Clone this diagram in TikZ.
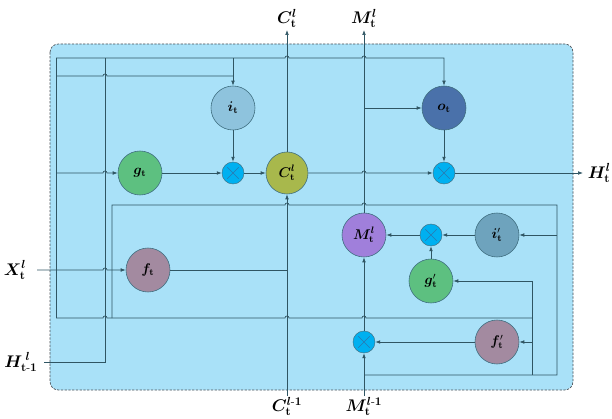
\documentclass[tikz,border=0pt]{standalone}
\usepackage{amsmath}
\usepackage{bm}
\usepackage{xcolor}
\usepackage{tikz}
\usetikzlibrary{positioning, arrows.meta}
\definecolor{cellBg}{HTML}{A9E1F8}
\definecolor{cellEdge}{HTML}{4A4F55}
\definecolor{wireC}{HTML}{2F5563}
\definecolor{gateEdge}{HTML}{3F6E80}
\definecolor{itCol}{HTML}{8EC3DD}
\definecolor{gtCol}{HTML}{5DC080}
\definecolor{mulCol}{HTML}{00B0F0}
\definecolor{crossCol}{HTML}{2A78B0}
\definecolor{ctCol}{HTML}{A8B84C}
\definecolor{otCol}{HTML}{4A71AA}
\definecolor{mtCol}{HTML}{A07FDB}
\definecolor{ipCol}{HTML}{6EA3BD}
\definecolor{ftCol}{HTML}{A38AA0}
% a small hop where a wire crosses another one
\newcommand{\hop}[2]{-- (#1-2,#2) arc[start angle=180,end angle=0,radius=0.6mm]}

\begin{document}
\begin{tikzpicture}[x=0.3mm, y=-0.3mm,
    wire/.style={draw=wireC, line width=0.6pt},
    flow/.style={wire, -{Latex[length=1.5mm,width=1.1mm]}},
    gate/.style={circle, draw=gateEdge, line width=0.5pt, minimum size=13.2mm, inner sep=0pt, font=\large},
    mul/.style={circle, draw=gateEdge, line width=0.4pt, fill=mulCol, minimum size=6.6mm, inner sep=0pt,
      path picture={\draw[crossCol, line width=0.5pt]
        ([shift={(-1.7mm,-1.7mm)}]path picture bounding box.center) -- ([shift={(1.7mm,1.7mm)}]path picture bounding box.center)
        ([shift={(-1.7mm,1.7mm)}]path picture bounding box.center) -- ([shift={(1.7mm,-1.7mm)}]path picture bounding box.center);}},
    io/.style={font=\Large, inner sep=0pt}]
  \useasboundingbox (0,0) rectangle (612,419);
  % cell body
  \draw[cellEdge, fill=cellBg, dash pattern=on 2pt off 1.2pt, line width=0.6pt, rounded corners=2.5mm]
    (50,44) rectangle (573,390);
  % spatial-temporal gates
  \node[gate, fill=itCol] (it) at (233,108) {$\bm{i}_{\mathbf{t}}$};
  \node[gate, fill=gtCol] (gt) at (140,173) {$\bm{g}_{\mathbf{t}}$};
  \node[gate, fill=ctCol, minimum size=12.6mm] (Ct) at (287,173) {$\bm{C}^{\bm{l}}_{\mathbf{t}}$};
  \node[gate, fill=otCol] (ot) at (444,108) {$\bm{o}_{\mathbf{t}}$};
  \node[gate, fill=ftCol] (ft) at (148,270) {$\bm{f}_{\mathbf{t}}$};
  \node[gate, fill=mtCol] (Mt) at (364,235) {$\bm{M}^{\bm{l}}_{\mathbf{t}}$};
  \node[gate, fill=ipCol] (itp) at (497,235) {$\bm{i}'_{\mathbf{t}}$};
  \node[gate, fill=gtCol] (gtp) at (431,281) {$\bm{g}'_{\mathbf{t}}$};
  \node[gate, fill=ftCol] (ftp) at (497,342) {$\bm{f}'_{\mathbf{t}}$};
  % products
  \foreach \n/\x/\y in {m1/233/173, m2/444/173, m3/431/235, m4/364/342} {
    \node[mul] (\n) at (\x,\y) {};
  }
  % junctions and free ends
  \coordinate (xIn) at (37,270);
  \coordinate (hIn) at (44,362);
  \coordinate (hCorner) at (105,362);
  \coordinate (hUp) at (105,58);
  \coordinate (tl) at (56,58);
  \coordinate (iLeft) at (56,76);
  \coordinate (gLeft) at (56,173);
  \coordinate (bl) at (56,318);
  \coordinate (iTop) at (233,58);
  \coordinate (iSide) at (233,76);
  \coordinate (oTop) at (444,58);
  \coordinate (oSide) at (364,108);
  \coordinate (cOut) at (287,30);
  \coordinate (mOut) at (364,30);
  \coordinate (hOut) at (583,173);
  \coordinate (cIn) at (287,396);
  \coordinate (mIn) at (364,396);
  \coordinate (fJoin) at (287,270);
  \coordinate (loopL) at (112,318);
  \coordinate (loopTL) at (112,205);
  \coordinate (loopTR) at (557,205);
  \coordinate (loopBR) at (557,375);
  \coordinate (mSplit) at (364,375);
  \coordinate (iR) at (557,235);
  \coordinate (bR) at (532,318);
  \coordinate (gR) at (532,281);
  \coordinate (fR) at (532,342);
  \coordinate (bRR) at (532,375);
  % inputs on the left
  \draw[wire] (tl) -- (bl);
  \draw[wire] (hIn) -- (hCorner) -- (hUp);
  \draw[flow] (xIn) \hop{105}{270} -- (ft.west);
  \draw[flow] (tl) \hop{287}{58} \hop{364}{58} -- (oTop) -- (ot.north);
  \draw[flow] (iTop) -- (it.north);
  \draw[wire] (iLeft) \hop{105}{76} -- (iSide);
  \draw[flow] (gLeft) \hop{105}{173} -- (gt.west);
  \draw[wire] (bl) \hop{105}{318} \hop{287}{318} \hop{364}{318} -- (bR);
  \draw[wire] (loopL) -- (loopTL) \hop{287}{205} \hop{364}{205} -- (loopTR) -- (loopBR) -- (mSplit);
  \draw[wire] (gR) -- (bRR);
  \draw[flow] (iR) -- (itp.east);
  \draw[flow] (gR) -- (gtp.east);
  \draw[flow] (fR) -- (ftp.east);
  % temporal memory path
  \draw[flow] (gt) -- (m1);
  \draw[flow] (it) -- (m1);
  \draw[flow] (m1) -- (Ct);
  \draw[flow] (Ct.east) \hop{364}{173} -- (m2.west);
  \draw[flow] (ot) -- (m2);
  \draw[flow] (m2) -- (hOut);
  \draw[flow] (Ct) -- (cOut);
  \draw[flow] (cIn) -- (Ct);
  \draw[wire] (ft) -- (fJoin);
  % spatial memory path
  \draw[flow] (Mt) -- (mOut);
  \draw[flow] (oSide) -- (ot);
  \draw[flow] (itp) -- (m3);
  \draw[flow] (gtp) -- (m3);
  \draw[flow] (m3) -- (Mt);
  \draw[flow] (ftp) -- (m4);
  \draw[flow] (mIn) -- (m4);
  \draw[flow] (m4) -- (Mt);
  % outer labels
  \node[io, above=2pt of cOut] (lblC) {$\bm{C}^{\bm{l}}_{\mathbf{t}}$};
  \node[io, above=2pt of mOut] (lblM) {$\bm{M}^{\bm{l}}_{\mathbf{t}}$};
  \node[io, right=4pt of hOut] (lblH) {$\bm{H}^{\bm{l}}_{\mathbf{t}}$};
  \node[io] (lblX) at (15,270) {$\bm{X}^{\bm{l}}_{\mathbf{t}}$};
  \node[io] (lblHp) at (21,362) {$\bm{H}_{\mathbf{t\text{-}1}}^{\;\bm{l}}$};
  \node[io, below=1pt of cIn] (lblCp) {$\bm{C}^{\bm{l}\text{-}\bm{1}}_{\mathbf{t}}$};
  \node[io, below=1pt of mIn] (lblMp) {$\bm{M}^{\bm{l}\text{-}\bm{1}}_{\mathbf{t}}$};
\end{tikzpicture}
\end{document}
